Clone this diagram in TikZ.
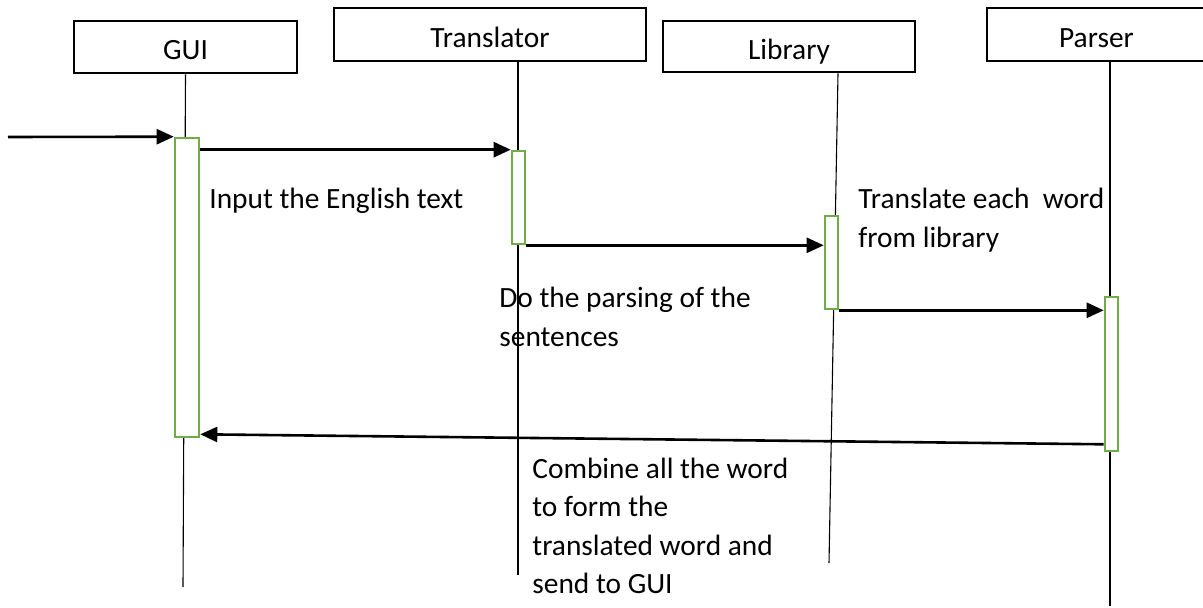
\documentclass[tikz,border=0pt]{standalone}
\usepackage{fontspec}
\setmainfont{Carlito}
\usetikzlibrary{arrows.meta}
\definecolor{actgreen}{RGB}{112,173,71}
\begin{document}
\begin{tikzpicture}[x=0.5pt,y=-0.5pt,
  header/.style={draw=black,line width=1.4pt,rectangle,inner sep=0pt,text height=13pt,text depth=0pt,font=\fontsize{14.7pt}{19.2pt}\selectfont},
  actbar/.style={draw=actgreen,fill=white,line width=1.3pt,rectangle,inner sep=0pt},
  msg/.style={-{Triangle[length=8.5pt,width=7.5pt]},line width=1.3pt},
  life/.style={line width=0.55pt},
  note/.style={anchor=base west,inner sep=0pt,align=left,font=\fontsize{14.7pt}{19.2pt}\selectfont}]
\useasboundingbox (0,0) rectangle (1203,608);
\clip (0,0) rectangle (1203,608);
% headers
\node[header,minimum width=111.5pt,minimum height=26pt] (gui) at (185.5,47) {GUI};
\node[header,minimum width=156pt,minimum height=26.5pt] (tr) at (490,34.5) {Translator};
\node[header,minimum width=126pt,minimum height=25.5pt] (lib) at (789,46.5) {Library};
\node[header,minimum width=109.5pt,minimum height=26.5pt] (par) at (1096.5,34.5) {Parser};
% lifelines
\coordinate (guiend) at (183,587);
\coordinate (trend) at (518,575);
\coordinate (libend) at (829,563);
\coordinate (parend) at (1110,606);
\draw[life] (gui.south) -- (guiend);
\draw[life] ([xshift=14pt]tr.south) -- (trend);
\draw[life] ([xshift=24.5pt]lib.south) -- (libend);
\draw[life] ([xshift=6.75pt]par.south) -- (parend);
% activation bars
\node[actbar,minimum width=12pt,minimum height=149.5pt] (guibar) at (187,287.5) {};
\node[actbar,minimum width=6.5pt,minimum height=46.5pt] (trbar) at (518.5,197.5) {};
\node[actbar,minimum width=6.5pt,minimum height=46.5pt] (libbar) at (831.5,262.5) {};
\node[actbar,minimum width=6.5pt,minimum height=77pt] (parbar) at (1111.5,374) {};
% messages
\coordinate (start) at (8,137);
\draw[msg] (start) -- (guibar.north west);
\draw[msg] (guibar.east |- trbar.north west) -- (trbar.north west);
\draw[msg] (trbar.south east) -- (libbar.west |- trbar.south east);
\draw[msg] (libbar.south east) -- (parbar.west |- libbar.south east);
\draw[msg] ([yshift=4pt]parbar.south west) -- ([yshift=2pt]guibar.south east);
% notes (base anchor sits on the last line)
\node[note] (t1) at (209,209) {Input the English text};
\node[note] (t2) at (858,247.4) {Translate each\ \ word\\from library};
\node[note] (t3) at (499,346.4) {Do the parsing of the\\sentences};
\node[note] (t4) at (532,593.5) {Combine all the word\\to form the\\translated word and\\send to GUI};
\end{tikzpicture}
\end{document}
